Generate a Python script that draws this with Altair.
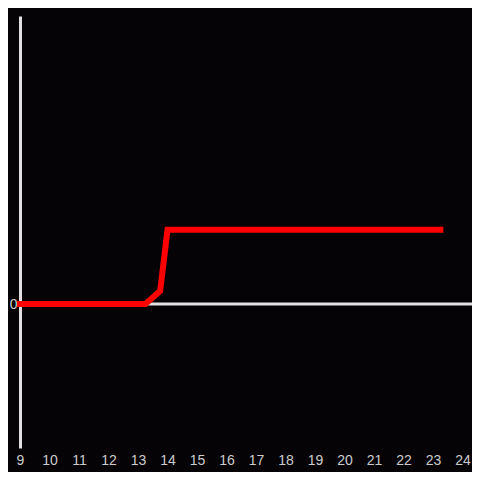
import altair as alt
import pandas as pd

hours = [9, 13.25, 13.75, 14.0, 23.25]
values = [0, 0, 0.18, 1.03, 1.03]
x_ticks = list(range(9, 25))

BG = "#050306"
AX = "#e0e0e0"

df = pd.DataFrame({"hour": hours, "value": values})

xscale = alt.Scale(domain=[9, 24.32], nice=False, zero=False)
yscale = alt.Scale(domain=[-2, 4], nice=False)

zero = alt.Chart(pd.DataFrame({"y": [0]})).mark_rule(color=AX, strokeWidth=3).encode(
    y=alt.Y("y:Q", scale=yscale)
)

line = alt.Chart(df).mark_line(color="#ff0000", strokeWidth=6, strokeCap="square").encode(
    x=alt.X("hour:Q", scale=xscale,
            axis=alt.Axis(values=x_ticks, format="d", title=None, grid=False, domain=False,
                          ticks=False, labelColor="#cccccc", labelFontSize=14, labelPadding=5,
                          labelFont="Liberation Sans", labelFlush=False, labelOverlap=False)),
    y=alt.Y("value:Q", scale=yscale,
            axis=alt.Axis(values=[0], format="d", title=None, grid=False, domain=True,
                          domainColor=AX, domainWidth=3, ticks=False, labelColor="#cccccc",
                          labelFontSize=14, labelPadding=3, labelFont="Liberation Sans")),
)

chart = alt.layer(zero, line).properties(
    width=452, height=432, background=BG,
    autosize=alt.AutoSizeParams(type="none"),
    padding={"left": 12, "top": 8, "right": 0, "bottom": 24},
).configure_view(stroke=None)

chart.save("out.html", embed_options={"renderer": "svg", "actions": False})
